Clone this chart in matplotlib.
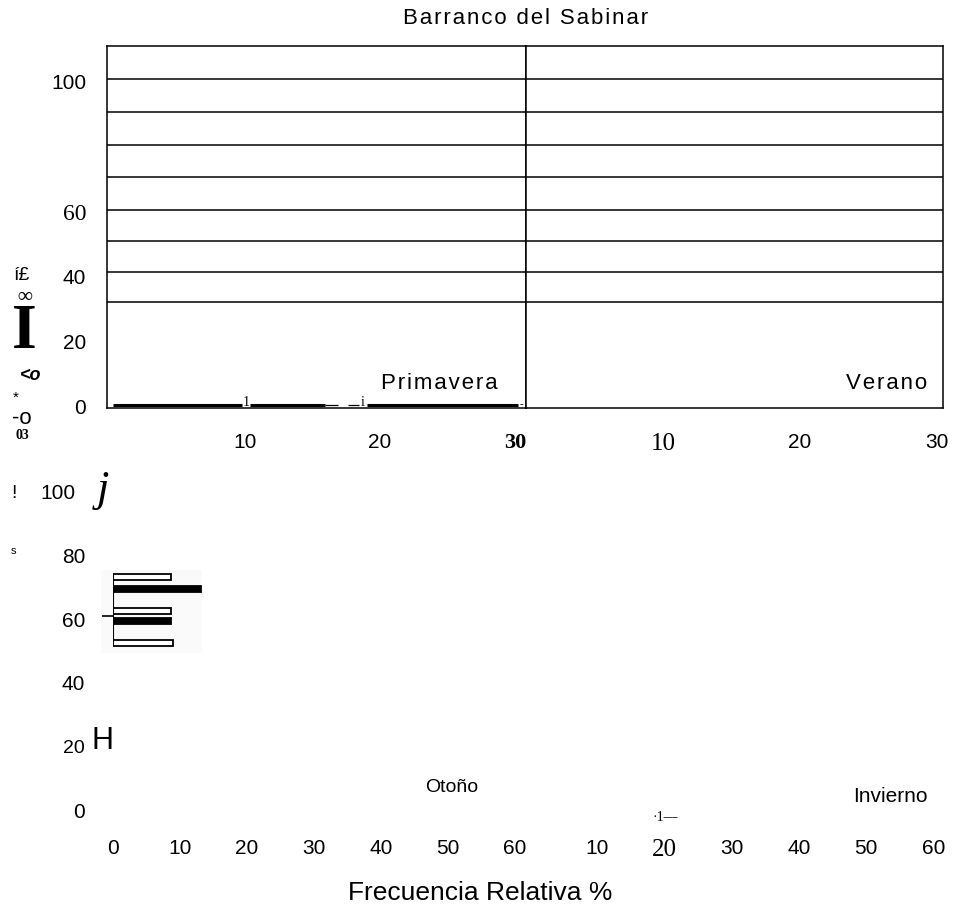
import matplotlib.pyplot as plt
from matplotlib.transforms import ScaledTranslation

W_PX, H_PX = 959, 919
SANS = ['Liberation Sans', 'DejaVu Sans']
NARROW = ['Liberation Sans Narrow', 'Liberation Sans', 'DejaVu Sans']
SERIF = ['Liberation Serif', 'DejaVu Serif']

# top panels (Primavera / Verano): horizontal strokes
top_levels = [100.8, 90.6, 80.4, 70.6, 60.4, 50.8, 41.3, 32.0]
top_yticks = [100, 60, 40, 20, 0]
top_xticks = [10, 20, 30]
base_starts = [0.2, 10.4, 19.0]
base_ends = [9.8, 15.9, 30.2]
dash_starts = [15.9, 17.6]
dash_ends = [16.9, 18.4]

# bottom panel (Otono): bar fragment left in the scan
oto_levels = [73.3, 69.5, 62.6, 59.4, 52.5]
oto_values = [8.6, 13.2, 8.6, 8.6, 8.9]
oto_fill = ['white', 'black', 'white', 'black', 'white']
frag_span = [51.5, 74.5]
frag_tick = [61.0]
bottom_yticks = [100, 80, 60, 40, 20, 0]
oto_xticks = [0, 10, 20, 30, 40, 50, 60]
inv_xticks = [10, 20, 30, 40, 50, 60]


def box(left, top, right, bottom):
    return [left / W_PX, 1 - bottom / H_PX, (right - left) / W_PX,
            (bottom - top) / H_PX]


def ftext(fig, x, y, s, **kw):
    kw.setdefault('ha', 'center')
    kw.setdefault('va', 'center')
    fig.text(x / W_PX, 1 - y / H_PX, s, **kw)


def spaced(s, gap='\u200a'):
    # the scan's labels are set with loose letter spacing
    return gap.join(s)


def main():
    fig = plt.figure(figsize=(W_PX / 100, H_PX / 100), dpi=100)

    ax1 = fig.add_axes(box(107, 46, 526, 408))
    ax2 = fig.add_axes(box(526, 46, 943, 408))
    for ax in (ax1, ax2):
        for lvl in top_levels:
            ax.axhline(lvl, color='black', lw=1.1)
        ax.set_ylim(-0.6, 111.1)
        for sp in ax.spines.values():
            sp.set_linewidth(1.1)
        ax.tick_params(length=0, labelsize=15, pad=18)
        ax.set_xticks(top_xticks)
        ax.set_xticklabels([str(t) for t in top_xticks], fontfamily=SANS)
    ax1.set_xlim(-0.22, 30.8)
    ax2.set_xlim(0, 30.45)

    ax1.set_yticks(top_yticks)
    ax1.set_yticklabels([str(t) for t in top_yticks], fontfamily=SANS)
    ax1.tick_params(axis='y', pad=15)
    ax2.set_yticks([])

    ax1.get_yticklabels()[1].set_fontfamily(SERIF)
    ax1.get_yticklabels()[1].set_fontsize(17)
    lab30 = ax1.get_xticklabels()[2]
    lab30.set_fontfamily(SERIF)
    lab30.set_fontweight('bold')
    lab30.set_fontsize(16)
    lab10 = ax2.get_xticklabels()[0]
    lab10.set_fontfamily(SERIF)
    lab10.set_fontsize(18)

    # zero-level strokes in Primavera
    ax1.hlines([0.3] * len(base_starts), base_starts, base_ends,
               color='black', lw=2.2)
    ax1.hlines([0.3] * len(dash_starts), dash_starts, dash_ends,
               color='black', lw=0.9)
    ax1.text(10.1, 0.0, '1', family=SERIF, fontsize=10, ha='center',
             va='baseline')
    ax1.text(18.7, 0.0, 'i', family=SERIF, fontsize=10, ha='center',
             va='baseline')
    ax1.text(30.5, 0.3, '-', family=SERIF, fontsize=8, ha='center',
             va='center')

    ax1.text(28.7, 7.1, spaced('Primavera'), family=SANS, fontsize=16,
             ha='right', va='center')
    ax2.text(29.3, 7.1, spaced('Verano'), family=SANS, fontsize=16,
             ha='right', va='center')

    ftext(fig, 526, 19, spaced('Barranco del Sabinar'), family=SANS,
          fontsize=16)

    # bottom row
    ax3 = fig.add_axes(box(113, 476, 113 + 61 * 6.7, 810))
    ax4 = fig.add_axes(box(530, 476, 530 + 61 * 6.72, 810))
    for ax in (ax3, ax4):
        ax.set_ylim(0, 105)
        ax.set_xlim(0, 61)
        for sp in ax.spines.values():
            sp.set_visible(False)
        ax.tick_params(length=0, labelsize=15, pad=21)
    ax3.set_xticks(oto_xticks)
    ax3.set_xticklabels([str(t) for t in oto_xticks], fontfamily=NARROW)
    ax4.set_xticks(inv_xticks)
    ax4.set_xticklabels([str(t) for t in inv_xticks], fontfamily=NARROW)
    lab20 = ax4.get_xticklabels()[1]
    lab20.set_fontfamily(SERIF)
    lab20.set_fontsize(18)
    ax4.set_yticks([])

    ax3.set_yticks(bottom_yticks)
    ax3.set_yticklabels([str(t) for t in bottom_yticks], fontfamily=SANS)
    ax3.tick_params(axis='y', pad=20)
    lab100 = ax3.get_yticklabels()[0]
    lab100.set_transform(lab100.get_transform() + ScaledTranslation(
        -10 / 100, 0, fig.dpi_scale_trans))
    ax3.get_yticklabels()[4].set_fontsize(14)

    # faint grey patch of the pasted scan fragment
    ax3.axvspan(-1.8, 13.3, ymin=49.5 / 105, ymax=75.5 / 105,
                color='#fafafa', lw=0, zorder=0, clip_on=False)
    ax3.barh(oto_levels, oto_values, height=1.7, color=oto_fill,
             edgecolor='black', lw=1.3)
    ax3.vlines(0, frag_span[0], frag_span[1], color='black', lw=1.5)
    ax3.hlines(frag_tick, -1.6, 0, color='black', lw=1.2, clip_on=False)

    ax3.text(50.5, 7.2, 'Otoño', family=NARROW, fontsize=14, ha='center',
             va='center')
    ax4.text(53.6, 4.1, 'Invierno', family=NARROW, fontsize=15,
             ha='center', va='center')
    ax4.text(20.1, -2.5, '·1—', family=SERIF, fontsize=10, ha='center',
             va='center')

    ftext(fig, 480, 893, 'Frecuencia Relativa %', family=NARROW,
          fontsize=19)

    # stray OCR glyphs down the left edge
    ftext(fig, 22, 276, 'í£', family=SANS, fontsize=14)
    ftext(fig, 25, 297, '∞', family=SERIF, fontsize=15, fontweight='bold')
    ftext(fig, 24, 333, 'I', family=SERIF, fontsize=46, fontweight='bold')
    ftext(fig, 31, 375, '<o', family=SANS, fontsize=13, fontweight='bold',
          style='italic')
    ftext(fig, 16, 398, '*', family=SANS, fontsize=11)
    ftext(fig, 22, 419, '-o', family=SANS, fontsize=16)
    ftext(fig, 22, 436, '03', family=SERIF, fontsize=10, fontweight='bold')
    ftext(fig, 14, 493, '!', family=SANS, fontsize=14)
    ftext(fig, 103, 490, 'j', family=SERIF, fontsize=32, style='italic')
    ftext(fig, 13, 551, 's', family=SANS, fontsize=8)
    ftext(fig, 102, 741, 'H', family=SANS, fontsize=22)

    fig.savefig('out.png', dpi=100)


if __name__ == '__main__':
    main()
